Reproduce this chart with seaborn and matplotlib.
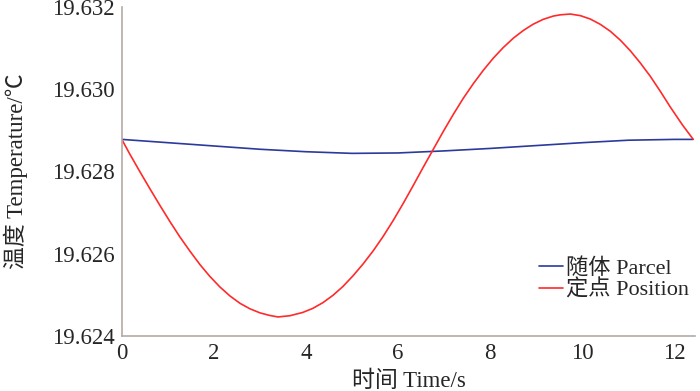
"""
Temperature at a fixed point vs. following the parcel.
"""

import matplotlib
matplotlib.use("Agg")
import matplotlib.pyplot as plt
import pandas as pd
import seaborn as sns


# ---------------------------------------------------
# Datos
# ---------------------------------------------------

parcel_time = [0, 1, 2, 3, 4, 5, 6, 7, 8, 9, 10, 11, 12, 12.4]
parcel_temp = [19.62878, 19.62870, 19.62862, 19.62854, 19.62848, 19.62844,
               19.62845, 19.62850, 19.62856, 19.62863, 19.62870, 19.62876,
               19.62878, 19.62878]

position_time = [0, 0.17, 0.39, 0.61, 0.83, 1.04, 1.26, 1.48, 1.70, 1.91,
                 2.13, 2.35, 2.57, 2.78, 3.0, 3.2, 3.39, 3.65, 3.93, 4.15,
                 4.37, 4.59, 4.80, 5.02, 5.24, 5.46, 5.67, 5.89, 6.11, 6.33,
                 6.54, 6.77, 6.98, 7.2, 7.41, 7.63, 7.85, 8.07, 8.28, 8.5,
                 8.72, 8.93, 9.15, 9.37, 9.52, 9.74, 9.96, 10.17, 10.39,
                 10.61, 10.83, 11.04, 11.26, 11.48, 11.70, 11.91, 12.17,
                 12.41]
position_temp = [19.62878, 19.62843, 19.62800, 19.62758, 19.62717, 19.62679,
                 19.62641, 19.62606, 19.62573, 19.62545, 19.62519, 19.62497,
                 19.62479, 19.62466, 19.62456, 19.62450, 19.62446, 19.62449,
                 19.62457, 19.62467, 19.62481, 19.62499, 19.62520, 19.62546,
                 19.62575, 19.62607, 19.62641, 19.62680, 19.62722, 19.62766,
                 19.62809, 19.62855, 19.62897, 19.62939, 19.62977, 19.63013,
                 19.63046, 19.63076, 19.63101, 19.63124, 19.63143, 19.63158,
                 19.63170, 19.63178, 19.63181, 19.63183, 19.63179, 19.63171,
                 19.63158, 19.63141, 19.63119, 19.63094, 19.63064, 19.63031,
                 19.62994, 19.62957, 19.62914, 19.62878]

series_labels = ["随体 Parcel", "定点 Position"]
series_colors = ["#2b3a9c", "#ff2a2a"]

x_ticks = [0, 2, 4, 6, 8, 10, 12]
y_ticks = [19.624, 19.626, 19.628, 19.630, 19.632]

df = pd.concat([
    pd.DataFrame({"t": parcel_time, "T": parcel_temp, "serie": series_labels[0]}),
    pd.DataFrame({"t": position_time, "T": position_temp, "serie": series_labels[1]}),
])


# ---------------------------------------------------
# Figura
# ---------------------------------------------------

sns.set_style("white")
plt.rcParams["font.family"] = ["Liberation Serif", "Noto Sans CJK SC"]

fig = plt.figure(figsize=(7, 3.91), dpi=100)
ax = fig.add_axes([0.174, 0.141, 0.819, 0.841])

sns.lineplot(
    data=df,
    x="t",
    y="T",
    hue="serie",
    palette=dict(zip(series_labels, series_colors)),
    linewidth=1.2,
    estimator=None,
    sort=False,
    ax=ax
)

spine_color = "#b3aaa4"
for side in ["top", "right"]:
    ax.spines[side].set_visible(False)
for side in ["left", "bottom"]:
    ax.spines[side].set_color(spine_color)
    ax.spines[side].set_linewidth(1.2)

ax.set_xlim(0, 12.45)
ax.set_ylim(19.624, 19.632)
ax.set_xticks(x_ticks)
ax.set_yticks(y_ticks)
ax.set_yticklabels([f"{v:.3f}" for v in y_ticks])
ax.tick_params(direction="in", length=5, width=1, color=spine_color,
               labelsize=16.5, pad=5)

ax.set_xlabel("时间 Time/s", fontsize=16.5, labelpad=5)
ax.set_ylabel("温度 Temperature/℃", fontsize=16.5, labelpad=17)

ax.legend(
    loc="lower right",
    bbox_to_anchor=(1.025, 0.045),
    frameon=False,
    fontsize=16,
    handlelength=1.1,
    handletextpad=0.15,
    labelspacing=0.05
)

# Guardar figura
fig.savefig("out.png", dpi=100)
